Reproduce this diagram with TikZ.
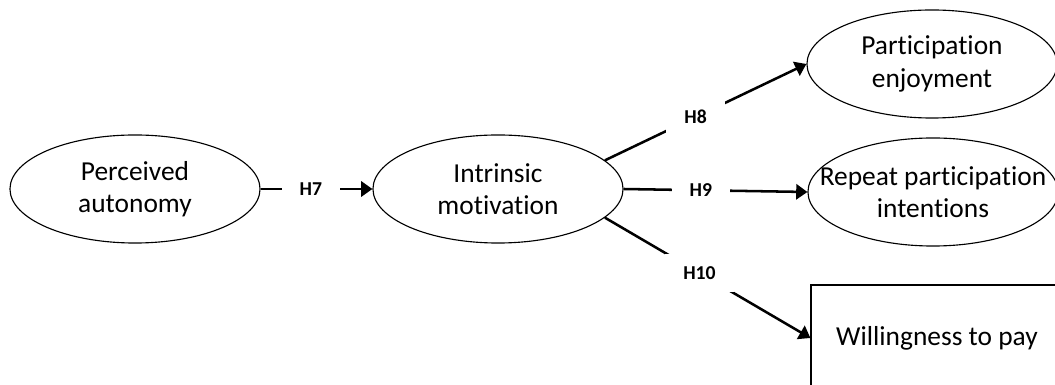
\documentclass[tikz,border=0pt]{standalone}
\usepackage{fontspec}
\setmainfont{Carlito}[Ligatures=NoCommon]
\usetikzlibrary{arrows.meta,shapes.geometric}
\tikzset{
  valtozo/.style={ellipse,draw,line width=0.8pt,minimum width=6.25cm,minimum height=2.7cm,
    inner xsep=-10mm,inner ysep=-2mm,align=center,font=\fontsize{19.5}{23}\selectfont},
  doboz/.style={rectangle,draw,line width=0.8pt,minimum width=6.3cm,minimum height=2.65cm,
    align=center,font=\fontsize{19.5}{23}\selectfont},
  uthat/.style={line width=1.8pt},
  nyil/.style={uthat,-{Triangle[length=2.8mm,width=3.8mm]}},
  hip/.style={fill=white,inner xsep=4.5mm,inner ysep=3mm,font=\fontsize{14}{16}\selectfont\bfseries},
}

\begin{document}
\begin{tikzpicture}[x=0.025cm,y=-0.025cm]
  \useasboundingbox (0,0) rectangle (1055,385);
  \clip (0,0) rectangle (1055,385);
  \node[valtozo] (pa) at (135,189) {Perceived\\autonomy};
  \node[valtozo] (im) at (498,189) {Intrinsic\\motivation};
  \node[valtozo] (pe) at (932,64) {Participation\\enjoyment};
  \node[valtozo] (rpi) at (933,192) {Repeat participation\\intentions};
  \node[doboz] (wtp) at (937,338) {Willingness to pay};
  \draw[nyil] (pa.east) -- node[hip,pos=.45] {H7} (im.west);
  \draw[nyil] (im.15) -- node[hip,pos=.45] {H8} (pe.west);
  \draw[nyil] (im.east) -- node[hip,pos=.42] {H9} (rpi.west);
  \draw[nyil] (im.-15) -- node[hip,pos=.46] {H10} (wtp.west);
\end{tikzpicture}
\end{document}
